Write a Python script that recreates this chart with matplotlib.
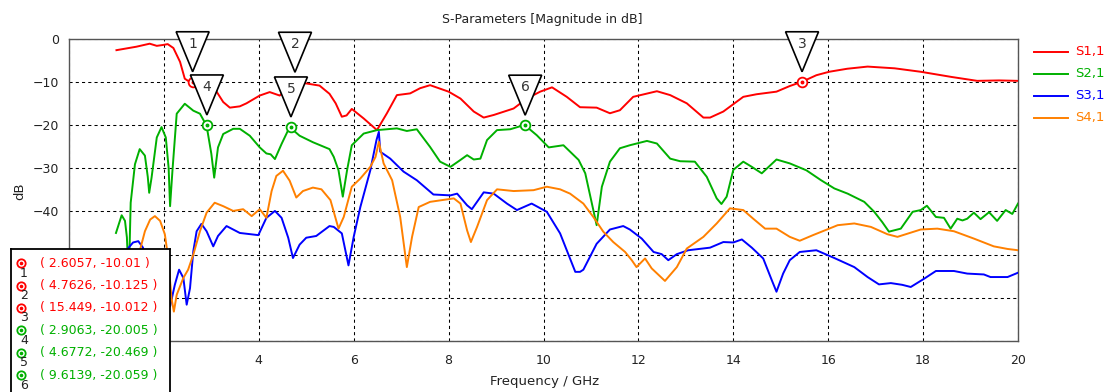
import numpy as np
import matplotlib
matplotlib.use("Agg")
import matplotlib.pyplot as plt
import matplotlib.transforms as mtransforms
from matplotlib.patches import Polygon
from matplotlib.lines import Line2D

# ---------------- data ----------------
s11_f = [1.0, 1.42, 1.7, 1.85, 1.98, 2.08, 2.2, 2.34, 2.44, 2.55, 2.61, 2.75, 2.95, 3.07, 3.25, 3.39, 3.6, 3.74,
         4.02, 4.23, 4.44, 4.6, 4.76, 5.0, 5.28, 5.49, 5.62, 5.75, 5.85, 5.96, 6.21, 6.49, 6.7, 6.91, 7.19, 7.4,
         7.61, 8.0, 8.25, 8.53, 8.74, 8.95, 9.37, 9.65, 9.93, 10.18, 10.49, 10.77, 11.12, 11.4, 11.61, 11.89,
         12.39, 12.67, 13.02, 13.37, 13.51, 13.79, 14.21, 14.49, 14.91, 15.19, 15.45, 15.75, 16.02, 16.4, 16.83,
         17.4, 17.95, 18.6, 19.14, 19.6, 20.0]
s11_db = [-2.7, -1.9, -1.2, -1.7, -1.5, -1.3, -2.2, -5.4, -9.3, -10.1, -10.0, -10.5, -11.0, -11.6, -14.7, -16.0,
          -15.7, -15.0, -13.2, -12.4, -13.2, -11.6, -10.1, -10.4, -10.9, -12.8, -15.0, -18.1, -17.8, -16.3, -18.5,
          -21.2, -17.3, -13.1, -12.7, -11.5, -10.8, -12.3, -13.9, -16.9, -18.3, -17.7, -16.2, -13.9, -12.3, -11.3,
          -13.5, -15.9, -16.0, -17.3, -16.6, -13.5, -12.2, -13.1, -15.0, -18.3, -18.3, -16.9, -13.5, -12.9, -12.3,
          -11.0, -10.0, -8.5, -7.7, -7.0, -6.5, -6.9, -7.7, -8.9, -9.8, -9.7, -9.8]

s21_f = [0.99, 1.11, 1.18, 1.22, 1.26, 1.3, 1.39, 1.49, 1.6, 1.66, 1.69, 1.74, 1.85, 1.95, 2.04, 2.1, 2.13, 2.18,
         2.27, 2.44, 2.62, 2.76, 2.9, 3.0, 3.06, 3.14, 3.25, 3.46, 3.6, 3.81, 4.02, 4.16, 4.25, 4.34, 4.48, 4.65,
         4.86, 5.14, 5.49, 5.58, 5.68, 5.77, 5.86, 5.96, 6.21, 6.49, 6.91, 7.12, 7.33, 7.61, 7.82, 8.04, 8.25,
         8.39, 8.53, 8.67, 8.81, 9.02, 9.3, 9.6, 9.86, 10.11, 10.42, 10.74, 10.88, 11.05, 11.12, 11.23, 11.4,
         11.61, 11.82, 12.18, 12.39, 12.67, 12.88, 13.19, 13.44, 13.65, 13.75, 13.86, 14.0, 14.21, 14.39, 14.6,
         14.91, 15.19, 15.54, 15.85, 16.13, 16.41, 16.76, 16.97, 17.14, 17.28, 17.53, 17.78, 17.95, 18.08, 18.27,
         18.44, 18.58, 18.72, 18.83, 18.93, 19.07, 19.21, 19.39, 19.56, 19.74, 19.88, 20.0]
s21_db = [-45.0, -40.9, -42.2, -46.0, -56.0, -38.0, -29.1, -25.6, -27.1, -32.0, -35.7, -32.2, -22.9, -20.5, -22.9,
          -30.0, -38.8, -30.6, -17.4, -15.1, -16.7, -17.4, -20.2, -26.7, -32.2, -25.2, -22.1, -20.9, -20.9, -22.5,
          -25.2, -26.6, -26.8, -27.9, -24.4, -20.5, -22.5, -24.0, -25.6, -27.4, -30.5, -36.6, -30.5, -24.7, -22.0,
          -21.2, -20.8, -21.4, -21.0, -25.1, -28.5, -29.7, -28.1, -27.0, -28.0, -27.8, -23.5, -21.2, -21.0, -20.0,
          -22.4, -25.2, -24.7, -28.1, -31.2, -39.7, -43.2, -34.3, -28.5, -25.4, -24.7, -23.7, -24.3, -27.8, -28.4,
          -28.5, -32.0, -37.0, -38.3, -36.6, -30.4, -28.5, -29.7, -31.2, -28.0, -28.9, -30.5, -32.8, -34.7, -35.9,
          -37.8, -40.1, -42.5, -44.7, -44.0, -40.1, -39.7, -38.7, -41.3, -41.5, -44.0, -41.7, -42.1, -41.7, -40.3,
          -41.8, -40.2, -42.2, -39.7, -40.6, -38.2]

s31_f = [1.0, 1.15, 1.25, 1.35, 1.46, 1.56, 1.7, 1.85, 2.0, 2.13, 2.23, 2.32, 2.41, 2.48, 2.55, 2.62, 2.69, 2.79,
         2.9, 3.04, 3.14, 3.32, 3.6, 3.99, 4.16, 4.34, 4.48, 4.62, 4.72, 4.86, 5.0, 5.21, 5.49, 5.58, 5.75, 5.89,
         6.0, 6.14, 6.35, 6.48, 6.53, 6.56, 6.77, 7.05, 7.33, 7.68, 8.04, 8.18, 8.39, 8.49, 8.74, 8.95, 9.23,
         9.44, 9.75, 10.07, 10.35, 10.67, 10.77, 10.84, 11.12, 11.4, 11.68, 11.82, 12.07, 12.32, 12.49, 12.63,
         12.81, 13.05, 13.51, 13.79, 14.0, 14.18, 14.39, 14.63, 14.81, 14.91, 15.05, 15.19, 15.4, 15.75, 16.13,
         16.55, 16.83, 17.07, 17.32, 17.56, 17.74, 18.02, 18.27, 18.65, 18.93, 19.28, 19.42, 19.78, 20.0]
s31_db = [-56.0, -52.0, -48.5, -47.2, -46.9, -48.4, -55.0, -58.0, -60.0, -62.0, -57.0, -53.5, -55.4, -61.6, -57.8,
          -49.2, -44.6, -42.9, -44.6, -48.1, -45.7, -43.4, -45.0, -45.5, -41.5, -39.9, -41.5, -46.1, -50.8, -47.7,
          -46.1, -45.7, -43.4, -43.6, -45.1, -52.5, -45.9, -39.0, -30.5, -23.5, -21.6, -26.2, -27.8, -30.8, -32.8,
          -36.1, -36.3, -35.9, -38.6, -39.5, -35.6, -35.9, -38.2, -39.7, -38.2, -40.1, -45.1, -54.0, -54.0, -53.5,
          -47.5, -44.2, -43.4, -44.2, -46.3, -49.4, -49.9, -51.3, -49.9, -49.0, -48.4, -47.1, -47.2, -46.5, -48.4,
          -50.9, -55.9, -58.6, -54.4, -51.3, -49.4, -49.0, -50.8, -52.9, -55.2, -56.9, -56.6, -57.0, -57.5, -55.6,
          -53.8, -53.8, -54.4, -54.6, -55.2, -55.2, -54.2]

s41_f = [1.0, 1.2, 1.4, 1.49, 1.6, 1.71, 1.81, 1.92, 2.02, 2.09, 2.16, 2.21, 2.27, 2.41, 2.51, 2.62, 2.76, 2.9,
         3.07, 3.25, 3.46, 3.67, 3.85, 4.02, 4.16, 4.27, 4.37, 4.51, 4.65, 4.79, 4.93, 5.14, 5.32, 5.51, 5.68,
         5.79, 5.96, 6.14, 6.35, 6.46, 6.53, 6.63, 6.81, 6.98, 7.12, 7.23, 7.37, 7.61, 8.11, 8.25, 8.39, 8.47,
         8.6, 8.81, 9.02, 9.37, 9.79, 10.07, 10.35, 10.56, 10.84, 11.05, 11.26, 11.47, 11.72, 11.86, 11.96,
         12.14, 12.28, 12.56, 12.81, 13.02, 13.37, 13.65, 13.93, 14.21, 14.42, 14.67, 14.91, 15.19, 15.4, 15.68,
         16.02, 16.2, 16.55, 16.9, 17.25, 17.46, 17.95, 18.3, 18.65, 19.07, 19.49, 19.78, 20.0]
s41_db = [-58.0, -54.0, -51.0, -49.2, -44.6, -41.9, -41.1, -42.2, -45.3, -50.8, -60.1, -63.2, -59.3, -55.4, -53.5,
          -50.0, -44.6, -40.3, -38.0, -38.8, -39.9, -39.5, -41.1, -39.5, -41.5, -35.3, -31.8, -30.6, -32.9, -36.8,
          -35.3, -34.5, -34.9, -37.4, -44.0, -41.3, -34.3, -32.4, -29.7, -27.4, -23.9, -28.9, -32.8, -41.3, -52.9,
          -45.9, -39.0, -37.8, -37.0, -38.2, -44.4, -47.1, -43.6, -37.4, -34.9, -35.3, -35.1, -34.3, -34.9, -35.9,
          -38.2, -41.3, -44.7, -47.1, -49.4, -51.3, -52.9, -50.9, -53.2, -56.1, -52.9, -48.6, -45.9, -42.8, -39.3,
          -39.7, -41.7, -44.0, -44.0, -45.9, -46.8, -45.5, -44.0, -43.2, -42.8, -43.6, -45.3, -45.9, -44.2, -44.0,
          -44.6, -46.3, -48.1, -48.7, -49.0]

series_names = ["S1,1", "S2,1", "S3,1", "S4,1"]
series_colors = ["#ff0000", "#00b000", "#0000ff", "#ff8000"]
series_f = [s11_f, s21_f, s31_f, s41_f]
series_db = [s11_db, s21_db, s31_db, s41_db]

marker_ids = [1, 2, 3, 4, 5, 6]
marker_freq = [2.6057, 4.7626, 15.449, 2.9063, 4.6772, 9.6139]
marker_db = [-10.01, -10.125, -10.012, -20.005, -20.469, -20.059]
marker_series = [0, 0, 0, 1, 1, 1]

title_text = "S-Parameters [Magnitude in dB]"
xlabel_text = "Frequency / GHz"
ylabel_text = "dB"
x_ticks = [0, 2, 4, 6, 8, 10, 12, 14, 16, 18, 20]
y_ticks = [-70, -60, -50, -40, -30, -20, -10, 0]

# ---------------- figure ----------------
plt.rcParams["font.family"] = ["DejaVu Sans"]
W, H = 1107, 392
fig = plt.figure(figsize=(W / 100, H / 100), dpi=100)
fig.patch.set_facecolor("white")

L, R, T, B = 69, 1018, 38.5, 341
ax = fig.add_axes([L / W, 1 - B / H, (R - L) / W, (B - T) / H])
ax.set_xlim(0, 20)
ax.set_ylim(-70, 0)
ax.set_xticks(x_ticks)
ax.set_yticks(y_ticks)
ax.tick_params(axis="both", length=0, labelsize=9, colors="#222222")
ax.tick_params(axis="x", pad=9)
ax.tick_params(axis="y", pad=7)
ax.grid(True, color="black", linestyle=(0, (3, 3)), linewidth=0.75)
for sp in ax.spines.values():
    sp.set_color("#555555")
    sp.set_linewidth(1.0)

for f, d, c in zip(series_f, series_db, series_colors):
    ax.plot(f, d, color=c, lw=1.4, zorder=3, solid_joinstyle="round")

# marker circles on curves
for f, d, s in zip(marker_freq, marker_db, marker_series):
    c = series_colors[s]
    ax.plot([f], [d], marker="o", ms=7, mfc="white", mec=c, mew=1.3, zorder=5, clip_on=False)
    ax.plot([f], [d], marker="o", ms=1.8, mfc=c, mec=c, zorder=5, clip_on=False)

# triangle flags
tri = [(-16.5, 50), (16.5, 50), (0, 10)]
for mid, f, d in zip(marker_ids, marker_freq, marker_db):
    tr = mtransforms.Affine2D() + mtransforms.ScaledTranslation(f, d, ax.transData)
    p = Polygon(tri, closed=True, facecolor="white", edgecolor="black", lw=1.2,
                transform=tr, zorder=6, clip_on=False)
    ax.add_patch(p)
    ax.annotate(str(mid), (f, d), xytext=(0, 38), textcoords="offset pixels",
                ha="center", va="center", fontsize=10, color="#333333", zorder=7,
                annotation_clip=False)

# texts
fig.text(542.5 / W, 1 - 19 / H, title_text, ha="center", va="center", fontsize=9, color="#222222")
fig.text(545 / W, 1 - 381 / H, xlabel_text, ha="center", va="center", fontsize=9.5, color="#222222")
fig.text(20 / W, 1 - 191 / H, ylabel_text, ha="center", va="center", fontsize=9.5, color="#222222", rotation=90)

# legend at right
for i, (n, c) in enumerate(zip(series_names, series_colors)):
    y = 1 - (52 + 22 * i) / H
    fig.add_artist(Line2D([1034 / W, 1068 / W], [y, y], color=c, lw=1.4, transform=fig.transFigure))
    fig.text(1075 / W, y, n, color=c, fontsize=9.5, ha="left", va="center")

# marker readout box
bx0, bx1, by0 = 11, 170, 249
bottom_frac = -0.02
bax = fig.add_axes([bx0 / W, bottom_frac, (bx1 - bx0) / W, (1 - by0 / H) - bottom_frac], zorder=10)
bax.set_facecolor("white")
bax.set_xlim(bx0, bx1)
bax.set_ylim(H - bottom_frac * H, by0)
bax.set_xticks([])
bax.set_yticks([])
for sp in bax.spines.values():
    sp.set_color("black")
    sp.set_linewidth(1.3)
for i, (mid, f, d, s) in enumerate(zip(marker_ids, marker_freq, marker_db, marker_series)):
    c = series_colors[s]
    y = 263.3 + 22.35 * i
    bax.plot([21], [y], marker="o", ms=6, mfc="white", mec=c, mew=1.3)
    bax.plot([21], [y], marker="o", ms=1.6, mfc=c, mec=c)
    bax.text(24, y + 10, str(mid), ha="center", va="center", fontsize=9, color="#222222")
    bax.text(40, y, "( {:.5g}, {:.5g} )".format(f, d), ha="left", va="center", fontsize=9, color=c)

# tick labels that lie under the readout box are hidden (as in the reference)
fig.canvas.draw()
renderer = fig.canvas.get_renderer()
box_bb = bax.get_window_extent(renderer)
for lab in ax.get_xticklabels() + ax.get_yticklabels():
    if lab.get_window_extent(renderer).overlaps(box_bb):
        lab.set_visible(False)

fig.savefig("out.png", dpi=100)
